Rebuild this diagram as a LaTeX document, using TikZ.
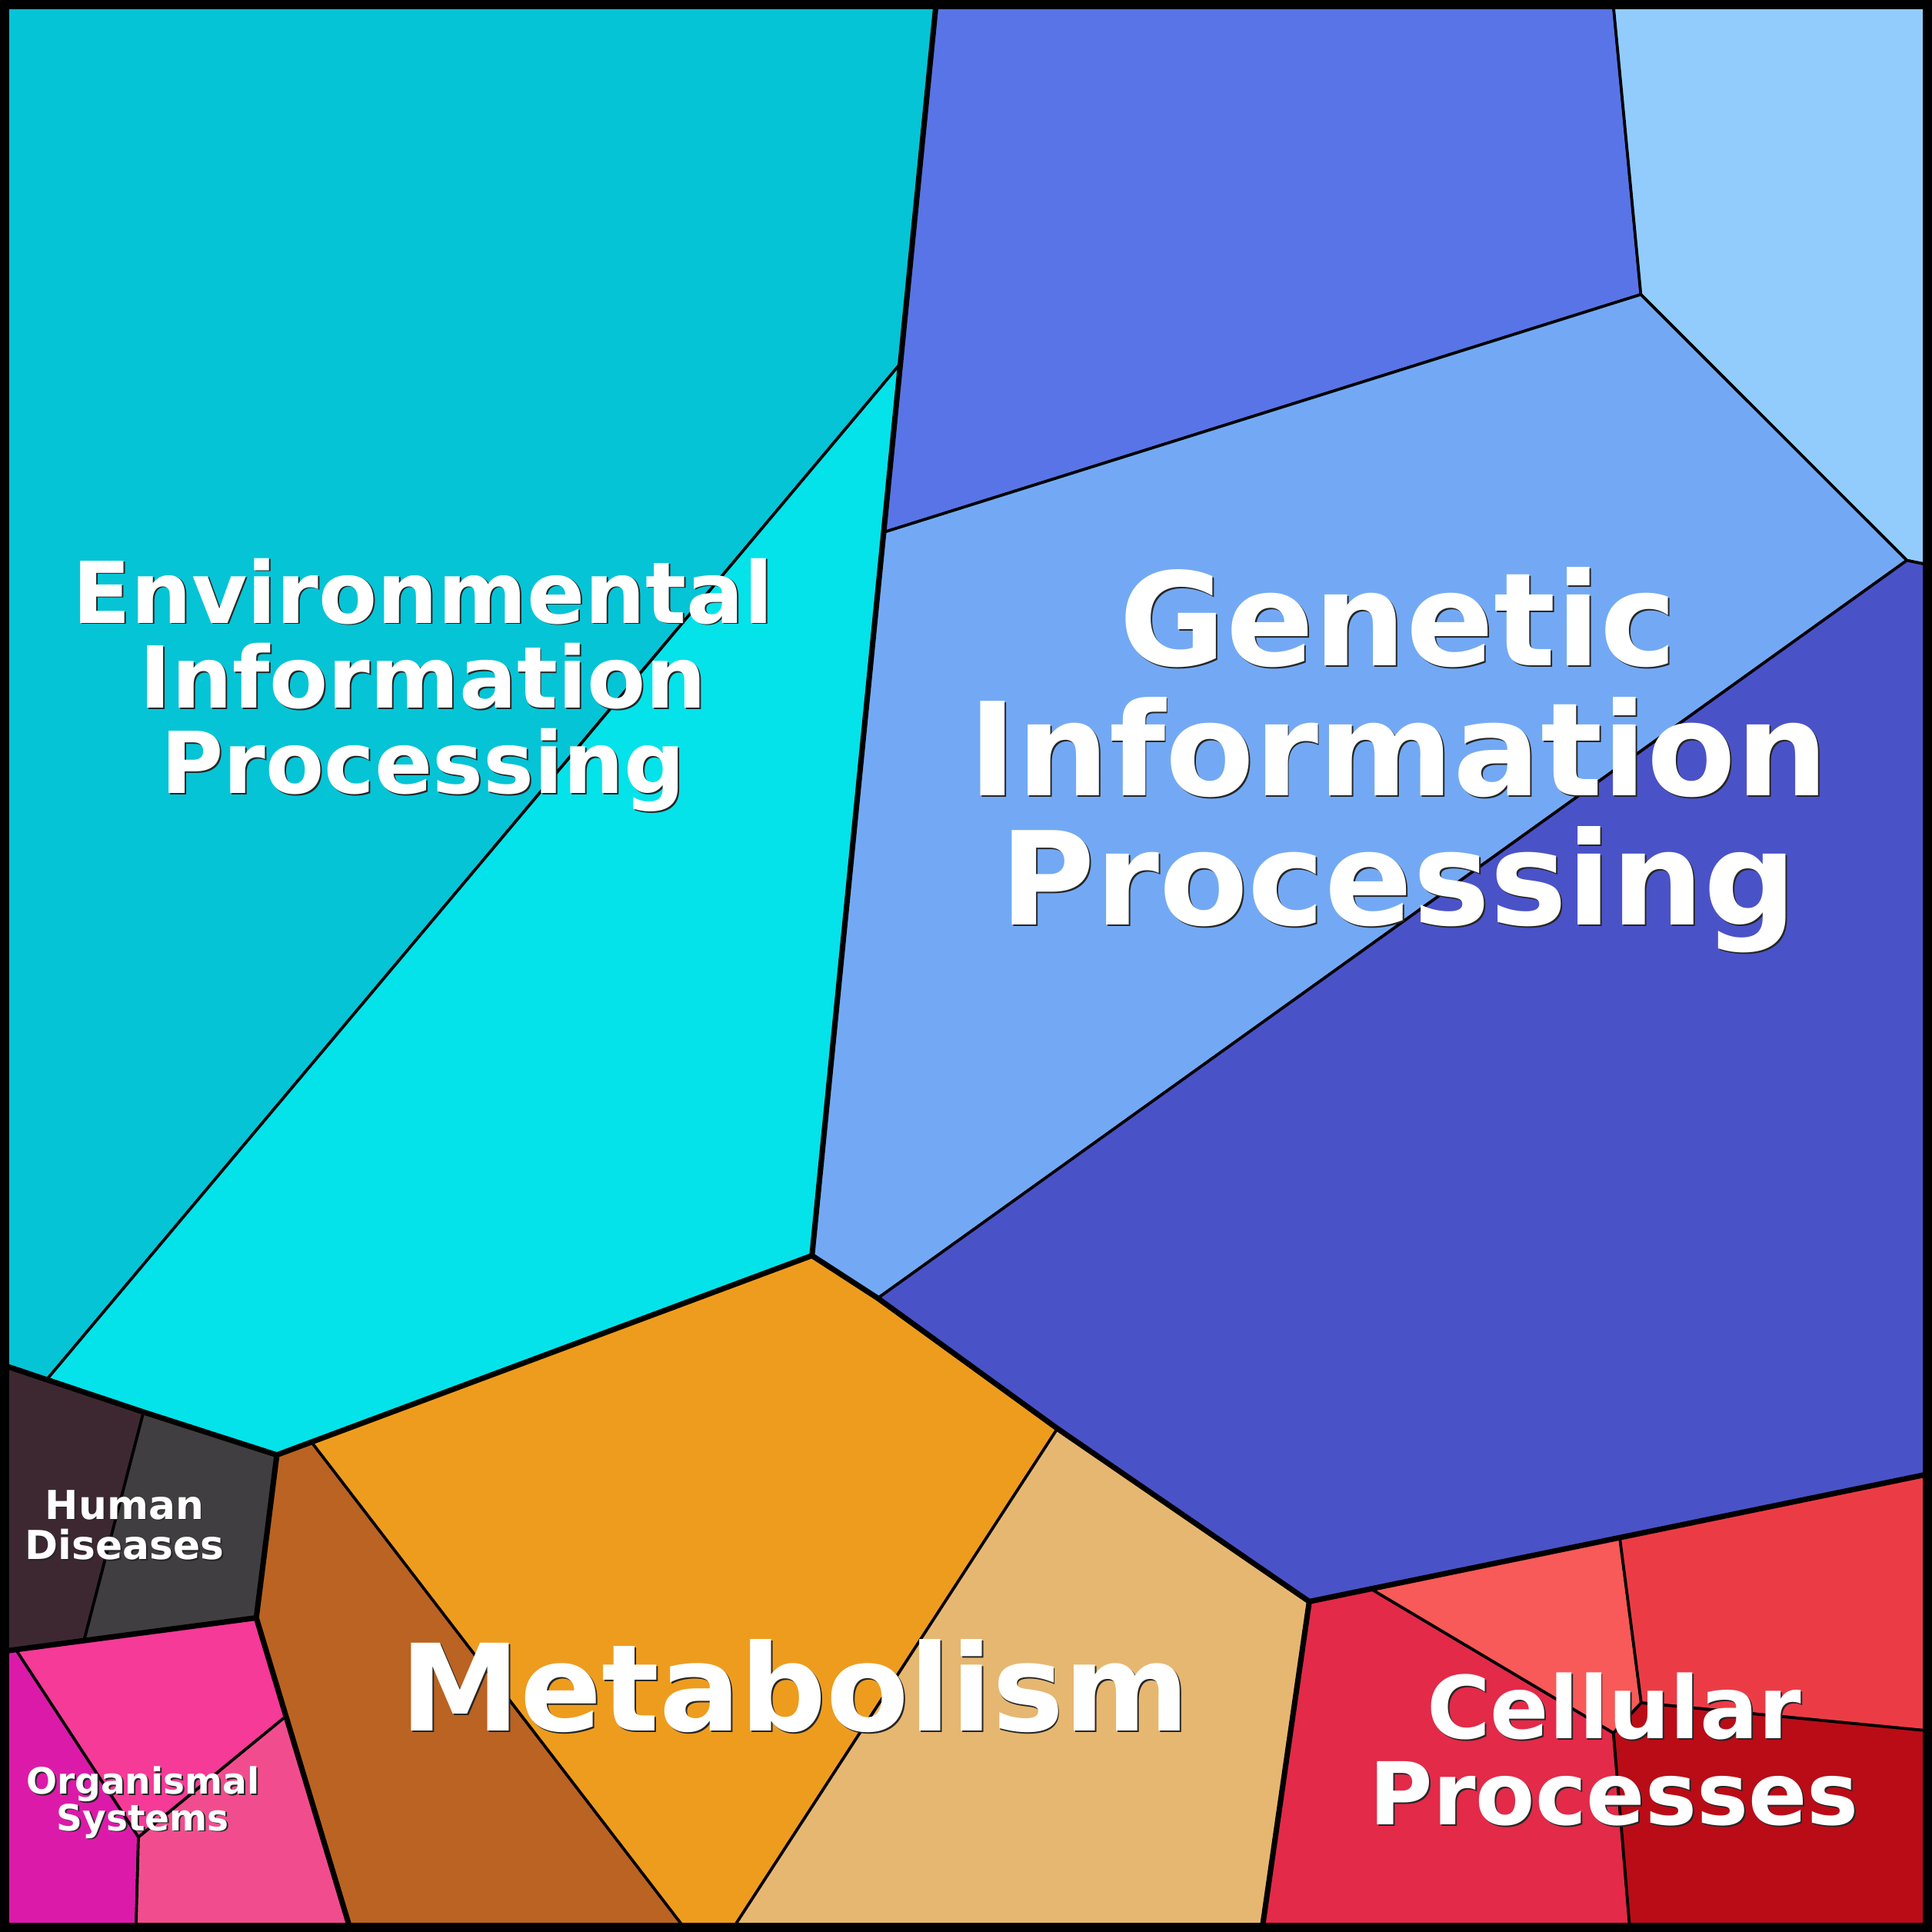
\documentclass[tikz,border=0pt]{standalone}
\usepackage{fontspec}
\setmainfont{DejaVu Sans}
\usepackage{tikz}

\definecolor{envdunkel}{RGB}{5,196,214}
\definecolor{envhell}{RGB}{4,226,234}
\definecolor{genblau}{RGB}{89,116,230}
\definecolor{genhimmel}{RGB}{146,204,252}
\definecolor{genmittel}{RGB}{115,169,244}
\definecolor{gendunkel}{RGB}{74,82,200}
\definecolor{metbraun}{RGB}{186,99,35}
\definecolor{metorange}{RGB}{238,156,30}
\definecolor{metsand}{RGB}{230,183,112}
\definecolor{hddunkel}{RGB}{61,40,50}
\definecolor{hdgrau}{RGB}{64,62,64}
\definecolor{orgmagenta}{RGB}{220,26,170}
\definecolor{orgpink}{RGB}{245,58,152}
\definecolor{orgrosa}{RGB}{241,77,142}
\definecolor{celkarmin}{RGB}{227,42,72}
\definecolor{cellachs}{RGB}{247,90,88}
\definecolor{celrot}{RGB}{235,60,70}
\definecolor{celdunkel}{RGB}{185,12,23}

\tikzset{
  Zelle/.style={draw=black, line width=0.65pt, line join=round}, % Teilflaechen
  Grenze/.style={draw=black, line width=1.25pt, line join=round}, % Hauptgrenzen
  Titel/.style={text=white, inner sep=0pt, anchor=base,
    font=\bfseries\fontsize{#1}{#1}\selectfont},
  Schatten/.style={Titel=#1, text=black!85, xshift=0.35pt, yshift=-0.35pt}
}

\begin{document}
\begin{tikzpicture}[x=0.01cm, y=-0.01cm]
\useasboundingbox (0,0) rectangle (1568,1568);

%Eckpunkte
\coordinate (TL) at (0,0);
\coordinate (TR) at (1568,0);
\coordinate (BR) at (1568,1568);
\coordinate (BL) at (0,1568);
\coordinate (e1) at (760,0);
\coordinate (e2) at (730.8,295);
\coordinate (e3) at (717.2,432);
\coordinate (e4) at (38.5,1119);
\coordinate (g1) at (1309,0);
\coordinate (g2) at (1331.7,239);
\coordinate (g3) at (1547.6,454.8);
\coordinate (g4) at (1568,459);
\coordinate (m1) at (659,1019);
\coordinate (m2) at (712.4,1053.6);
\coordinate (m3) at (858.2,1159.4);
\coordinate (m4) at (1062.6,1299.8);
\coordinate (m5) at (1024,1568);
\coordinate (m6) at (593,1568);
\coordinate (m7) at (558,1568);
\coordinate (m8) at (285,1568);
\coordinate (b1) at (252.8,1170.3);
\coordinate (h0) at (0,1107);
\coordinate (h1) at (116.5,1146);
\coordinate (h2) at (224.7,1180.8);
\coordinate (h3) at (208,1313);
\coordinate (h4) at (68.2,1331.5);
\coordinate (h5) at (0,1340.5);
\coordinate (o1) at (12.9,1338.8);
\coordinate (o2) at (232,1393);
\coordinate (o3) at (112.4,1491);
\coordinate (o4) at (110.3,1568);
\coordinate (c0) at (1568,1195.7);
\coordinate (c1) at (1112.6,1289.5);
\coordinate (c2) at (1314.6,1247.9);
\coordinate (c3) at (1332,1382);
\coordinate (c4) at (1309.5,1406.5);
\coordinate (c5) at (1568,1405);
\coordinate (c6) at (1323,1568);

%Flaechen
\draw[Zelle, fill=envdunkel] (TL) -- (e1) -- (e2) -- (e4) -- (h0) -- cycle;
\draw[Zelle, fill=envhell] (e2) -- (m1) -- (h2) -- (h1) -- (e4) -- cycle;
\draw[Zelle, fill=genblau] (e1) -- (g1) -- (g2) -- (e3) -- cycle;
\draw[Zelle, fill=genhimmel] (g1) -- (TR) -- (g4) -- (g3) -- (g2) -- cycle;
\draw[Zelle, fill=genmittel] (e3) -- (g2) -- (g3) -- (m2) -- (m1) -- cycle;
\draw[Zelle, fill=gendunkel] (g3) -- (g4) -- (c0) -- (m4) -- (m3) -- (m2) -- cycle;
\draw[Zelle, fill=metbraun] (h2) -- (b1) -- (m7) -- (m8) -- (h3) -- cycle;
\draw[Zelle, fill=metorange] (b1) -- (m1) -- (m2) -- (m3) -- (m6) -- (m7) -- cycle;
\draw[Zelle, fill=metsand] (m3) -- (m4) -- (m5) -- (m6) -- cycle;
\draw[Zelle, fill=hddunkel] (h0) -- (h1) -- (h4) -- (h5) -- cycle;
\draw[Zelle, fill=hdgrau] (h1) -- (h2) -- (h3) -- (h4) -- cycle;
\draw[Zelle, fill=orgmagenta] (h5) -- (o1) -- (o3) -- (o4) -- (BL) -- cycle;
\draw[Zelle, fill=orgpink] (o1) -- (h3) -- (o2) -- (o3) -- cycle;
\draw[Zelle, fill=orgrosa] (o3) -- (o2) -- (m8) -- (o4) -- cycle;
\draw[Zelle, fill=celkarmin] (m4) -- (c1) -- (c4) -- (c6) -- (m5) -- cycle;
\draw[Zelle, fill=cellachs] (c1) -- (c2) -- (c3) -- (c4) -- cycle;
\draw[Zelle, fill=celrot] (c2) -- (c0) -- (c5) -- (c3) -- cycle;
\draw[Zelle, fill=celdunkel] (c4) -- (c3) -- (c5) -- (BR) -- (c6) -- cycle;

%Hauptgrenzen
\draw[Grenze] (h0) -- (h1) -- (h2) -- (m1) -- (e1);
\draw[Grenze] (m1) -- (m2) -- (m3) -- (m4) -- (c0);
\draw[Grenze] (m4) -- (m5);
\draw[Grenze] (h2) -- (h3) -- (m8);
\draw[Grenze] (h5) -- (h4) -- (h3);
\draw[line width=4.3pt] (TL) rectangle (BR);

%Beschriftung
\foreach \y/\t [count=\i] in {505.6/Environmental, 574.7/Information, 644/Processing}{
  \node[Schatten=19.7pt] at (343.4,\y) {\t};
  \node[Titel=19.7pt] (env\i) at (343.4,\y) {\t};
}
\foreach \y/\t [count=\i] in {540.4/Genetic, 645.6/Information, 750.8/Processing}{
  \node[Schatten=29.9pt] at (1135,\y) {\t};
  \node[Titel=29.9pt] (gen\i) at (1135,\y) {\t};
}
\node[Schatten=27.8pt] at (645,1405) {Metabolism};
\node[Titel=27.8pt] (met) at (645,1405) {Metabolism};
\foreach \y/\t [count=\i] in {1410.8/Cellular, 1481/Processes}{
  \node[Schatten=20pt] at (1310,\y) {\t};
  \node[Titel=20pt] (cel\i) at (1310,\y) {\t};
}
\foreach \y/\t [count=\i] in {1232.8/Human, 1265.3/Diseases}{
  \node[Schatten=9.2pt] at (101,\y) {\t};
  \node[Titel=9.2pt] (hd\i) at (101,\y) {\t};
}
\foreach \y/\t [count=\i] in {1456/Organismal, 1485.6/Systems}{
  \node[Schatten=8.35pt] at (116,\y) {\t};
  \node[Titel=8.35pt] (org\i) at (116,\y) {\t};
}
\end{tikzpicture}
\end{document}
